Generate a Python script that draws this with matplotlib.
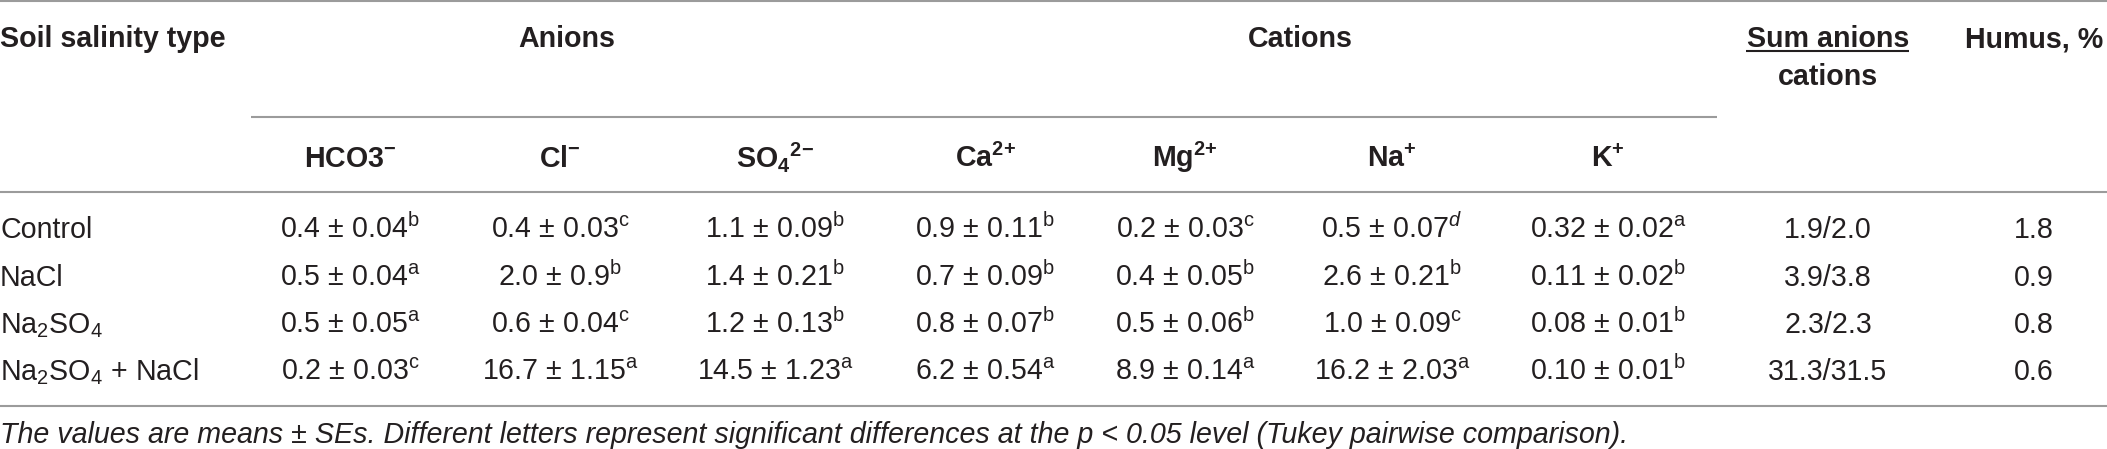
import matplotlib.pyplot as plt

plt.rcParams['font.family'] = 'Liberation Sans'
plt.rcParams['mathtext.fontset'] = 'custom'
plt.rcParams['mathtext.rm'] = 'Liberation Sans'
plt.rcParams['mathtext.it'] = 'Liberation Sans:italic'
plt.rcParams['mathtext.bf'] = 'Liberation Sans:bold'

# table content
soil_types = ["Control", "NaCl", "Na$_2$SO$_4$", "Na$_2$SO$_4$ + NaCl"]
ion_names = [r"HCO3$^{\mathbf{-}}$", r"Cl$^{\mathbf{-}}$", r"SO$_{\mathbf{4}}$$^{\mathbf{2}{\mathbf{-}}}$",
             r"Ca$^{\mathbf{2}{\mathbf{+}}}$", r"Mg$^{\mathbf{2}{\mathbf{+}}}$", r"Na$^{\mathbf{+}}$",
             r"K$^{\mathbf{+}}$"]

hco3 = ["0.4 ± 0.04", "0.5 ± 0.04", "0.5 ± 0.05", "0.2 ± 0.03"]
hco3_sig = ["b", "a", "a", "c"]
cl = ["0.4 ± 0.03", "2.0 ± 0.9", "0.6 ± 0.04", "16.7 ± 1.15"]
cl_sig = ["c", "b", "c", "a"]
so4 = ["1.1 ± 0.09", "1.4 ± 0.21", "1.2 ± 0.13", "14.5 ± 1.23"]
so4_sig = ["b", "b", "b", "a"]
ca = ["0.9 ± 0.11", "0.7 ± 0.09", "0.8 ± 0.07", "6.2 ± 0.54"]
ca_sig = ["b", "b", "b", "a"]
mg = ["0.2 ± 0.03", "0.4 ± 0.05", "0.5 ± 0.06", "8.9 ± 0.14"]
mg_sig = ["c", "b", "b", "a"]
na = ["0.5 ± 0.07", "2.6 ± 0.21", "1.0 ± 0.09", "16.2 ± 2.03"]
na_sig = ["d", "b", "c", "a"]
k = ["0.32 ± 0.02", "0.11 ± 0.02", "0.08 ± 0.01", "0.10 ± 0.01"]
k_sig = ["a", "b", "b", "b"]
sum_ratio = ["1.9/2.0", "3.9/3.8", "2.3/2.3", "31.3/31.5"]
humus = ["1.8", "0.9", "0.8", "0.6"]

footnote = ("The values are means ± SEs. Different letters represent significant "
            "differences at the p < 0.05 level (Tukey pairwise comparison).")

ion_values = [hco3, cl, so4, ca, mg, na, k]
ion_sigs = [hco3_sig, cl_sig, so4_sig, ca_sig, mg_sig, na_sig, k_sig]

W, H = 2107, 449
fig = plt.figure(figsize=(W / 100, H / 100), dpi=100)
ax = fig.add_axes([0, 0, 1, 1])
ax.set_xlim(0, W)
ax.set_ylim(H, 0)
ax.axis('off')

txt = '#231f20'
rule = '#9b9b9b'
fs = 20.6

col_x = [350, 560, 775, 985, 1185, 1392, 1608]
sum_x, humus_x = 1828, 2034
row_y = [238, 286, 333, 380]

# rules
ax.hlines(1, 0, W, color=rule, lw=1.5)
ax.hlines(117, 251, 1717, color=rule, lw=1.5)
ax.hlines(192, 0, W, color=rule, lw=1.5)
ax.hlines(406, 0, W, color=rule, lw=1.5)

# header
ax.text(0, 47, "Soil salinity type", fontsize=fs, fontweight='bold', color=txt, va='baseline')
ax.text(567, 47, "Anions", fontsize=fs, fontweight='bold', color=txt, ha='center', va='baseline')
ax.text(1300, 47, "Cations", fontsize=fs, fontweight='bold', color=txt, ha='center', va='baseline')
ax.text(sum_x, 47, "Sum anions", fontsize=fs, fontweight='bold', color=txt, ha='center', va='baseline')
ax.hlines(51, 1746, 1909, color=txt, lw=1.5)
ax.text(sum_x, 85, "cations", fontsize=fs, fontweight='bold', color=txt, ha='center', va='baseline')
ax.text(humus_x, 47, "Humus, %", fontsize=fs, fontweight='bold', color=txt, ha='center', va='baseline')

for x, name in zip(col_x, ion_names):
    ax.text(x, 167, name, fontsize=fs, fontweight='bold', color=txt, ha='center', va='baseline')

# body
for i, y in enumerate(row_y):
    ax.text(0, y, soil_types[i], fontsize=fs, color=txt, va='baseline')
    for x, vals, sigs in zip(col_x, ion_values, ion_sigs):
        letter = sigs[i] if sigs[i] == "d" else r"\mathrm{%s}" % sigs[i]
        ax.text(x, y, vals[i] + "$^{%s}$" % letter, fontsize=fs, color=txt,
                ha='center', va='baseline')
    ax.text(sum_x, y, sum_ratio[i], fontsize=fs, color=txt, ha='center', va='baseline')
    ax.text(humus_x, y, humus[i], fontsize=fs, color=txt, ha='center', va='baseline')

ax.text(0, 443, footnote, fontsize=fs, style='italic', color=txt, va='baseline')

fig.savefig("out.png", dpi=100)
